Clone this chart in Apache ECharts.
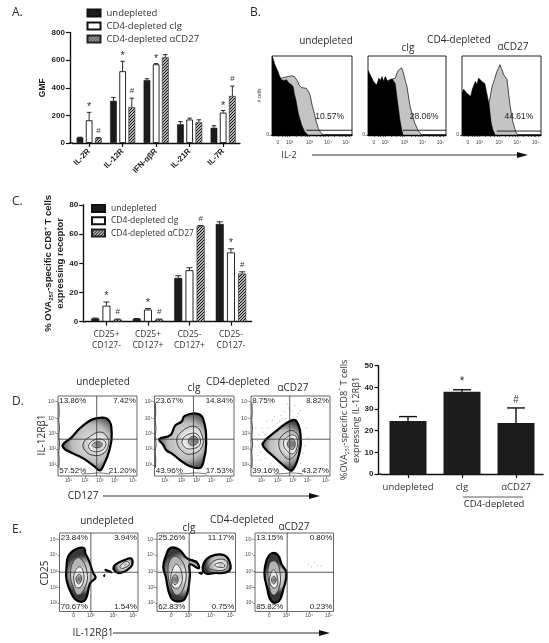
<!DOCTYPE html>
<html><head><meta charset="utf-8">
<script src="https://cdn.jsdelivr.net/npm/echarts@6/dist/echarts.min.js"></script>
<style>html,body{margin:0;padding:0;background:#fff}#c{width:549px;height:643px}</style></head>
<body><div id="c"></div>
<script>
// ---------- data ----------
const names = ['undepleted', 'CD4-depleted cIg', 'CD4-depleted αCD27'];
const aCats = ['IL-2R', 'IL-12R', 'IFN-αβR', 'IL-21R', 'IL-7R'];
const aUndep = [40, 305, 455, 135, 110];
const aCig = [165, 520, 570, 170, 220];
const aCd27 = [35, 260, 620, 150, 340];
const aUndepTop = [42, 330, 465, 155, 125];
const aCigTop = [222, 592, 575, 180, 235];
const aCd27Top = [40, 325, 640, 168, 412];
const aCigMarks = ['*', '*', '*', '', '*'];
const aCd27Marks = ['#', '#', '', '', '#'];

const cCats = ['CD25+\nCD127-', 'CD25+\nCD127+', 'CD25-\nCD127+', 'CD25-\nCD127-'];
const cUndep = [2.2, 2, 30, 67];
const cCig = [11, 8.3, 35.3, 47.5];
const cCd27 = [1.5, 1.5, 65.5, 33];
const cUndepTop = [2.5, 2.2, 31.5, 68.5];
const cCigTop = [13.5, 9, 37, 50];
const cCd27Top = [1.8, 1.8, 66, 34.2];
const cCigMarks = ['*', '*', '', '*'];
const cCd27Marks = ['#', '#', '#', '#'];

const dCats = ['undepleted', 'cIg', 'αCD27'];
const dVals = [24.5, 38, 23.5];
const dTops = [26.5, 38.9, 30.5];
const dMarks = ['', '*', '#'];

const hist1Black = [[0,100],[2,95],[3.4,90],[5,86],[7.6,80],[9,76],[11.8,70],[13,72],[15,69],[18,70],[21,66],[24,64],[26.5,61],[28,52],[30,44],[33,27],[37,13],[41,4],[45,0],[100,0]];
const hist1Gray = [[0,70],[12,72],[14,70],[16,73],[18,71],[20,74],[22,73],[25,75],[28,74],[30,74],[32,68],[34,63],[37,60],[39,62],[43,59],[46,54],[48,49],[50,38],[53,27],[55,18],[58,8],[61,3],[64,0],[100,0]];
const hist2Black = [[0,82],[2,78],[5,72],[7,68],[9,70],[11,63],[14,72],[16,69],[18,74],[20,68],[22,74],[24,72],[26,67],[28,70],[31,71],[35,65],[37,49],[39,34],[41,19],[43,8],[45,0],[100,0]];
const hist2Gray = [[0,60],[35,72],[37,78],[39,82],[41,81],[43,85],[45,80],[46,76],[48,68],[50,61],[52,48],[54,36],[57,25],[60,15],[64,6],[69,0],[100,0]];
const hist3Black = [[0,53],[2,58],[4,59],[6,53],[8,55],[11,49],[13,58],[15,63],[17,68],[19,64],[21,72],[23,73],[25,68],[27,70],[29,65],[31,55],[34,40],[36,24],[37,15],[39,7],[42,0],[100,0]];
const hist3Gray = [[0,0],[33,0],[34,40],[36,50],[38,61],[41,70],[44,80],[46,84],[48,89],[50,84],[53,76],[55,74],[57,70],[59,52],[61,36],[64,18],[68,4],[71,0],[100,0]];
const histGates = [[[43, 6], [100, 6]], [[45, 6], [100, 6]], [[44, 5], [100, 5]]];
const histPct = ['10.57%', '28.06%', '44.61%'];

const d1Shapes = [
 [0,[[6,39],[17,48],[27,59],[40,69],[48,72],[63,71],[68,53],[65,32],[57,12],[53,7],[46,12],[32,22],[15,30],[8,34]]],
 [1,[[32,41],[40,49],[53,55],[62,49],[64,39],[57,28],[44,26],[34,32]]],
 [2,[[39,39],[49,46],[59,44],[60,37],[53,31],[42,32]]],
 [3,[[43,39],[51,43],[56,40],[53,36],[46,36]]]];
const d2Shapes = [
 [0,[[6,46],[20,51],[26,63],[34,68],[38,75],[53,78],[61,72],[65,41],[61,16],[57,10],[45,12],[32,20],[22,28],[15,32],[11,39]]],
 [1,[[28,45],[36,57],[51,62],[59,53],[60,37],[49,28],[36,30]]],
 [2,[[35,45],[45,53],[55,51],[57,39],[47,34],[38,36]]],
 [3,[[43,45],[50,50],[55,44],[51,39],[45,39]]]];
const d3Shapes = [
 [0,[[15,41],[33,57],[50,69],[58,68],[63,45],[60,24],[52,7],[45,10],[29,24],[18,34]]],
 [1,[[35,41],[45,55],[56,55],[61,41],[54,24],[45,22]]],
 [2,[[41,41],[50,51],[58,48],[57,32],[50,28]]],
 [3,[[46,40],[52,47],[56,40],[52,33]]]];
const e1Shapes = [
 [0,[[11,70],[20,79],[31,81],[33,74],[37,66],[43,49],[46,43],[39,36],[33,15],[24,13],[16,21],[9,40],[9,57]]],
 [1,[[18,64],[26,68],[35,51],[33,32],[24,21],[18,30],[14,47]]],
 [2,[[19,49],[26,57],[31,47],[29,34],[23,30],[19,36]]],
 [3,[[21,43],[26,47],[28,40],[24,35]]],
 [0,[[69,57],[84,66],[92,67],[91,57],[75,49]]],
 [2,[[77,57],[85,64],[89,60],[81,55]]],
 [9,[[58,54],[66,51],[67,49],[58,52]]],
 [9,[[56,46],[58,47],[57,44]]]];
const e2Shapes = [
 [9,[[38,68],[51,64],[54,57],[44,62]]],
 [9,[[53,49],[59,51],[57,47]]],
 [0,[[11,70],[17,81],[28,79],[38,68],[51,62],[53,55],[42,60],[42,45],[36,17],[25,13],[17,19],[11,45],[8,57]]],
 [1,[[17,66],[25,70],[36,55],[34,30],[25,21],[17,34],[14,51]]],
 [2,[[19,51],[25,60],[32,47],[29,32],[22,30],[18,38]]],
 [3,[[19,40],[23,47],[27,40],[23,34]]],
 [0,[[59,60],[68,70],[85,72],[93,62],[91,51],[72,49],[61,49]]],
 [1,[[66,57],[76,66],[89,64],[87,54],[72,53]]],
 [2,[[74,60],[83,62],[86,57],[76,57]]]];
const e3Shapes = [
 [0,[[15,66],[21,74],[29,72],[34,60],[40,49],[36,28],[30,13],[21,13],[15,32],[12,49]]],
 [1,[[18,60],[26,64],[32,49],[30,28],[23,21],[18,34]]],
 [2,[[19,45],[24,53],[29,40],[26,30],[20,34]]],
 [3,[[21,40],[24,45],[27,40],[24,35]]]];
const dEdge = [[1,10],[1.5,20],[0.8,30],[2,40],[1,50],[1.8,60],[0.8,70],[1.5,80],[1,92]];
const dBase = [[30,2.5],[42,3],[50,4],[58,3.5],[66,2.5]];
const d3Noise = [[8,44],[10,52],[6,37],[12,30],[9,26],[18,52],[22,60],[15,55],[27,70],[33,66],[38,76],[42,80],[48,85],[52,82],[55,88],[60,78],[66,70],[70,60],[68,38],[66,28],[63,16],[25,16],[18,22],[30,74],[44,72],[36,68],[20,68],[14,60],[72,48],[62,82],[46,90],[4,50],[6,60],[10,38],[12,20],[20,30],[58,74],[40,72],[24,42],[17,47]];
const e3Noise = [[68,60],[72,57],[80,59],[76,62],[84,58]];
const dPct = [['13.86%','7.42%','57.52%','21.20%'],['23.67%','14.84%','43.96%','17.53%'],['8.75%','8.82%','39.16%','43.27%']];
const ePct = [['23.84%','3.94%','70.67%','1.54%'],['25.26%','11.17%','62.83%','0.75%'],['13.15%','0.80%','85.82%','0.23%']];

const histTicks = [7.5,13,16,19,22,30,36,41,44,47,55,60,64,67,70,78,84,88,91,93,97];
const histLabelTicks = {7.5:'0',22:'10²',47:'10³',70:'10⁴',93:'10⁵'};
const dTicks = {13:'10¹',34:'10²',53:'10³',72:'10⁴',95:'10⁵'};
const dYTicks = {14:'10¹',34:'10²',53:'10³',72:'10⁴',93:'10⁵'};
const eTicks = {18:'0',40:'10³',69:'10⁴',94:'10⁵'};
const eYTicks = {11:'10¹',31:'10²',51:'10³',72:'10⁴',92:'10⁵'};

// ---------- helpers ----------
const SANS = 'Open Sans', ARIAL = 'Liberation Sans', INK = '#222';
const pat = document.createElement('canvas'); pat.width = 3; pat.height = 3;
(function () { const g = pat.getContext('2d'); g.fillStyle = '#b5b5b5'; g.fillRect(0,0,3,3);
  g.fillStyle = '#111'; g.fillRect(0,2,1,1); g.fillRect(1,1,1,1); g.fillRect(2,0,1,1); })();
const hatch = { image: pat, repeat: 'repeat' };

const grids = [], xAxes = [], yAxes = [], series = [];
function addGrid(g, x, y) { grids.push(Object.assign({ containLabel: false }, g)); const i = grids.length - 1;
  xAxes.push(Object.assign({ gridIndex: i }, x)); yAxes.push(Object.assign({ gridIndex: i }, y)); return i; }
const axLine = { show: true, lineStyle: { color: '#111', width: 1.4 } };
const axTick = { show: true, length: 4, lineStyle: { color: '#111', width: 1.2 } };
function catAxis(cats, label) { return { type: 'category', data: cats, axisLine: axLine, axisTick: Object.assign({ alignWithLabel: true }, axTick), axisLabel: label }; }
function valAxis(max, interval, extra) { return Object.assign({ type: 'value', min: 0, max, interval, offset: 2.5, axisLine: axLine, axisTick: axTick, splitLine: { show: false },
  axisLabel: { fontFamily: ARIAL, fontWeight: 'bold', fontSize: 8, color: INK, margin: 5 } }, extra); }

function errSeries(gi, vals, tops, marks, off, cap, lw, markSize, gap) {
  series.push({ type: 'custom', xAxisIndex: gi, yAxisIndex: gi, silent: true, z: 5, clip: false,
    data: vals.map((v, i) => [i, v, tops[i]]),
    renderItem: (p, api) => {
      const i = api.value(0), a = api.coord([i, api.value(1)]), b = api.coord([i, api.value(2)]);
      const x = a[0] + off, kids = [
        { type: 'line', shape: { x1: x, y1: a[1], x2: x, y2: b[1] }, style: { stroke: '#111', lineWidth: lw } },
        { type: 'line', shape: { x1: x - cap, y1: b[1], x2: x + cap, y2: b[1] }, style: { stroke: '#111', lineWidth: lw } }];
      if (marks && marks[i]) kids.push({ type: 'text', style: { x, y: b[1] - gap, text: marks[i], align: 'center', verticalAlign: 'middle', fontFamily: ARIAL, fontSize: marks[i] === '*' ? markSize + 2 : markSize, fill: '#333' } });
      return { type: 'group', children: kids };
    } });
}
function barGroup(gi, vals, w, gapPct) {
  const styles = [{ color: '#1c1c1c', borderColor: '#111', borderWidth: 0.6 }, { color: '#fff', borderColor: '#111', borderWidth: 0.9 }, { color: hatch, borderColor: '#222', borderWidth: 0.6 }];
  vals.forEach((v, i) => series.push({ type: 'bar', name: names[i], xAxisIndex: gi, yAxisIndex: gi, data: v, barWidth: w, barGap: gapPct, itemStyle: styles[i] }));
}
function lineS(gi, data, fill, stroke, lw, z) {
  series.push({ type: 'line', xAxisIndex: gi, yAxisIndex: gi, data, symbol: 'none', silent: true, z, clip: true,
    lineStyle: { color: stroke, width: lw }, areaStyle: fill ? { color: fill, opacity: 1 } : undefined });
}
function textS(gi, items, size) {
  series.push({ type: 'custom', xAxisIndex: gi, yAxisIndex: gi, silent: true, z: 8, clip: false, data: items.map((_, i) => [i]),
    renderItem: (p, api) => { const it = items[api.value(0)], c = api.coord([it[0], it[1]]);
      return { type: 'text', style: { x: c[0], y: c[1], text: it[2], align: it[3], verticalAlign: 'middle', fontFamily: ARIAL, fontSize: size, fill: '#222' } }; } });
}
function shapeStyle(level) {
  const rad = (a, b, c) => ({ type: 'radial', x: 0.58, y: 0.5, r: 0.62, colorStops: [{ offset: 0, color: a }, { offset: 0.6, color: b }, { offset: 1, color: c }] });
  if (level === 9) return { fill: '#000', stroke: '#000', lineWidth: 1 };
  if (level === 0) return { fill: rad('#e6e6e6', '#bcbcbc', '#383838'), stroke: '#000', lineWidth: 2.2 };
  if (level === 1) return { fill: rad('#f4f4f4', '#e0e0e0', '#b4b4b4'), stroke: '#333', lineWidth: 0.9 };
  if (level === 2) return { fill: rad('#b0b0b0', '#dedede', '#f4f4f4'), stroke: '#333', lineWidth: 0.9 };
  return { fill: rad('#707070', '#8c8c8c', '#c8c8c8'), stroke: '#333', lineWidth: 0.8 };
}
function flowPlot(box, shapes, qx, qy, xT, yT, pct, edge, base, noise) {
  const frame = '#666';
  const tl = { fontSize: 5, fontFamily: ARIAL, color: '#444', margin: 2 };
  const gi = addGrid({ left: box[0], top: box[1], width: box[2], height: box[3], show: true, borderColor: frame, borderWidth: 1, backgroundColor: '#fff' },
    { type: 'value', min: 0, max: 100, splitLine: { show: false }, axisLine: { show: false },
      axisTick: { show: true, length: 2, lineStyle: { color: '#555', width: 0.6 }, customValues: Object.keys(xT).map(Number) },
      axisLabel: Object.assign({ customValues: Object.keys(xT).map(Number), formatter: v => xT[v] || '' }, tl) },
    { type: 'value', min: 0, max: 100, splitLine: { show: false }, axisLine: { show: false },
      axisTick: { show: true, length: 2, lineStyle: { color: '#555', width: 0.6 }, customValues: Object.keys(yT).map(Number) },
      axisLabel: Object.assign({ customValues: Object.keys(yT).map(Number), formatter: v => yT[v] || '' }, tl) });
  if (edge) lineS(gi, edge, null, '#555', 1.2, 2);
  if (base) lineS(gi, base, null, '#777', 1, 2);
  if (noise) series.push({ type: 'scatter', xAxisIndex: gi, yAxisIndex: gi, data: noise, symbolSize: 1, silent: true, z: 2, itemStyle: { color: '#888' } });
  series.push({ type: 'custom', xAxisIndex: gi, yAxisIndex: gi, silent: true, z: 3, data: shapes.map((_, i) => [i]),
    renderItem: (p, api) => { const s = shapes[api.value(0)];
      return { type: 'polygon', shape: { points: s[1].map(q => api.coord(q)), smooth: s[0] === 9 ? 0 : 0.45 }, style: shapeStyle(s[0]) }; } });
  lineS(gi, [[qx, 0], [qx, 100]], null, '#333', 0.8, 4);
  lineS(gi, [[0, qy], [100, qy]], null, '#333', 0.8, 4);
  textS(gi, [[1.5, 94, pct[0], 'left'], [98.5, 94, pct[1], 'right'], [1.5, 6.5, pct[2], 'left'], [98.5, 6.5, pct[3], 'right']], 8);
}
function histPlot(box, black, gray, gate, pct, withName) {
  const gi = addGrid({ left: box[0], top: box[1], width: box[2], height: box[3], show: true, borderColor: '#222', borderWidth: 1, backgroundColor: '#fff' },
    { type: 'value', min: 0, max: 100, splitLine: { show: false }, axisLine: { show: true, lineStyle: { color: '#000', width: 1.3 } },
      axisTick: { show: true, length: 2, lineStyle: { color: '#222', width: 0.6 }, customValues: histTicks },
      axisLabel: { customValues: Object.keys(histLabelTicks).map(Number), formatter: v => histLabelTicks[v] || '', fontSize: 5, fontFamily: ARIAL, color: '#444', margin: 5 } },
    { type: 'value', min: 0, max: 100, splitLine: { show: false }, axisLine: { show: false }, axisTick: { show: true, length: 2, lineStyle: { color: '#222', width: 0.6 }, customValues: [0] },
      axisLabel: { customValues: [0], fontSize: 5, fontFamily: ARIAL, color: '#333', margin: 3 },
      name: withName ? '# cells' : '', nameLocation: 'middle', nameGap: 7, nameTextStyle: { fontSize: 5, fontFamily: ARIAL, color: '#333' } });
  lineS(gi, gray, '#c4c4c4', '#222', 0.8, 2);
  lineS(gi, black, '#000', '#000', 0.5, 3);
  lineS(gi, gate, null, '#111', 0.9, 4);
  textS(gi, [[72, 23, pct, 'center']], 8.5);
}

// ---------- panel A ----------
const gA = addGrid({ left: 72.4, top: 32.5, width: 167.5, height: 110.5 },
  catAxis(aCats, { rotate: 45, fontFamily: ARIAL, fontWeight: 'bold', fontSize: 8, color: INK, margin: 7, interval: 0 }),
  valAxis(800, 200, { name: 'GMF', nameLocation: 'middle', nameGap: 15, nameTextStyle: { fontFamily: ARIAL, fontWeight: 'bold', fontSize: 8.5, color: INK } }));
barGroup(gA, [aUndep, aCig, aCd27], 6.7, '37%');
errSeries(gA, aUndep, aUndepTop, null, -9.2, 2.2, 0.9, 9, 5);
errSeries(gA, aCig, aCigTop, aCigMarks, 0, 2.2, 0.9, 9, 5);
errSeries(gA, aCd27, aCd27Top, aCd27Marks, 9.2, 2.2, 0.9, 8, 7);

// ---------- panel C ----------
const richC = { b: { fontFamily: ARIAL, fontWeight: 'bold', fontSize: 9.5, color: INK, lineHeight: 12 },
  s: { fontFamily: ARIAL, fontWeight: 'bold', fontSize: 6, color: INK, verticalAlign: 'bottom', lineHeight: 10 },
  u: { fontFamily: ARIAL, fontWeight: 'bold', fontSize: 6, color: INK, verticalAlign: 'top', lineHeight: 10 } };
const gC = addGrid({ left: 85.7, top: 205, width: 166, height: 116.7 },
  catAxis(cCats, { fontFamily: SANS, fontSize: 8.5, color: '#333', margin: 7, interval: 0, lineHeight: 11.5 }),
  valAxis(80, 20, { name: '{b|% OVA}{s|257}{b|-specific CD8}{u|+}{b| T cells}\n{b|expressing receptor}', nameLocation: 'middle', nameGap: 12, nameTextStyle: { rich: richC } }));
barGroup(gC, [cUndep, cCig, cCd27], 8, '40%');
errSeries(gC, cUndep, cUndepTop, null, -11.2, 3, 0.9, 9, 5);
errSeries(gC, cCig, cCigTop, cCigMarks, 0, 3, 0.9, 9, 6);
errSeries(gC, cCd27, cCd27Top, cCd27Marks, 11.2, 3, 0.9, 8, 7);

// ---------- panel D bars ----------
const richD = { b: { fontFamily: SANS, fontSize: 9.2, color: '#333', lineHeight: 12 },
  s: { fontFamily: SANS, fontSize: 5, color: '#333', verticalAlign: 'bottom', lineHeight: 10 },
  u: { fontFamily: SANS, fontSize: 5, color: '#333', verticalAlign: 'top', lineHeight: 10 } };
const gD = addGrid({ left: 381, top: 365.7, width: 162, height: 108.3 },
  catAxis(dCats, { fontFamily: SANS, fontSize: 9.5, color: '#333', margin: 8, interval: 0 }),
  valAxis(50, 10, { name: '{b|%OVA}{s|257}{b|-specific CD8}{u|+}{b| T cells}\n{b|expressing IL-12Rβ1}', nameLocation: 'middle', nameGap: 13, nameTextStyle: { rich: richD } }));
series.push({ type: 'bar', name: 'dbar', xAxisIndex: gD, yAxisIndex: gD, data: dVals, barWidth: 37, itemStyle: { color: '#1c1c1c' } });
errSeries(gD, dVals, dTops, dMarks, 0, 9, 1.4, 10, 8);

// ---------- panel B ----------
histPlot([272, 56, 80, 79], hist1Black, hist1Gray, histGates[0], histPct[0], true);
histPlot([368, 56, 78, 79], hist2Black, hist2Gray, histGates[1], histPct[1], false);
histPlot([462, 56, 79, 79], hist3Black, hist3Gray, histGates[2], histPct[2], false);

// ---------- panel D flow ----------
flowPlot([58, 396, 79, 80], d1Shapes, 49, 46, dTicks, dYTicks, dPct[0], dEdge, dBase);
flowPlot([154.5, 396, 79.5, 80], d2Shapes, 49, 46, dTicks, dYTicks, dPct[1], dEdge, dBase);
flowPlot([251, 396, 79, 80], d3Shapes, 49, 46, dTicks, dYTicks, dPct[2], dEdge, dBase, d3Noise);

// ---------- panel E flow ----------
flowPlot([59.5, 533, 78.5, 78.5], e1Shapes, 40, 50, eTicks, eYTicks, ePct[0]);
flowPlot([157, 533, 78.5, 78.5], e2Shapes, 41, 50, eTicks, eYTicks, ePct[1]);
flowPlot([255, 533, 78.5, 78.5], e3Shapes, 41, 50, eTicks, eYTicks, ePct[2], null, null, e3Noise);

// ---------- free text, axis stubs and arrows ----------
function T(x, y, text, size, align, rot, family) { return { type: 'text', x, y, rotation: rot || 0, z: 20, silent: true,
  style: { text, fontSize: size, fontFamily: family || SANS, fill: '#2a2a2a', align: align || 'center', verticalAlign: 'middle' } }; }
function arrow(x1, x2, y) { return [
  { type: 'line', z: 20, silent: true, shape: { x1, y1: y, x2: x2 - 6, y2: y }, style: { stroke: '#333', lineWidth: 1.2 } },
  { type: 'polygon', z: 20, silent: true, shape: { points: [[x2 - 11, y - 3], [x2, y], [x2 - 11, y + 3]] }, style: { fill: '#111' } }]; }
const stub = (x1, x2, y) => ({ type: 'line', silent: true, z: 20, shape: { x1, y1: y, x2, y2: y }, style: { stroke: '#111', lineWidth: 1.4 } });
const graphic = [
  T(12, 13, 'A.', 12, 'left'), T(250, 13, 'B.', 12, 'left'), T(12, 202, 'C.', 12, 'left'), T(12, 402, 'D.', 12, 'left'), T(12, 530, 'E.', 12, 'left'),
  T(326, 41, 'undepleted', 10), T(408, 48, 'cIg', 10), T(459, 40, 'CD4-depleted', 10), T(513, 47, 'αCD27', 10),
  T(289, 155, 'IL-2', 9), ...arrow(312, 528, 155),
  T(103, 382, 'undepleted', 10), T(194, 388, 'cIg', 10), T(238, 382, 'CD4-depleted', 10), T(293, 388, 'αCD27', 10),
  T(42, 435, 'IL-12Rβ1', 10, 'center', Math.PI / 2), T(83, 496, 'CD127', 10), ...arrow(103, 320, 496),
  T(107, 521, 'undepleted', 10), T(189, 528, 'cIg', 10), T(242, 520, 'CD4-depleted', 10), T(294, 527, 'αCD27', 10),
  T(45, 573, 'CD25', 10, 'center', Math.PI / 2), T(93, 633, 'IL-12Rβ1', 10), ...arrow(113, 330, 633),
  T(494, 504, 'CD4-depleted', 9.5),
  { type: 'line', z: 20, silent: true, shape: { x1: 463, y1: 497, x2: 523, y2: 497 }, style: { stroke: '#333', lineWidth: 0.8 } },
  stub(69, 73, 143), stub(82.5, 86, 321.7), stub(378, 381, 474)
];

const chart = echarts.init(document.getElementById('c'), null, { renderer: 'canvas' });
chart.setOption({
  animation: false, backgroundColor: '#fff', grid: grids, xAxis: xAxes, yAxis: yAxes, series, graphic,
  legend: [
    { data: names, orient: 'vertical', left: 81.5, top: 3, itemWidth: 13, itemHeight: 7, itemGap: 3, icon: 'rect', selectedMode: false, textStyle: { fontFamily: SANS, fontSize: 9.5, color: '#333', padding: [0,0,0,1] } },
    { data: names, orient: 'vertical', left: 86, top: 199, itemWidth: 13, itemHeight: 7, itemGap: 3.3, icon: 'rect', selectedMode: false, textStyle: { fontFamily: SANS, fontSize: 8.5, color: '#333', padding: [0,0,0,1] } }
  ]
});
</script></body></html>
